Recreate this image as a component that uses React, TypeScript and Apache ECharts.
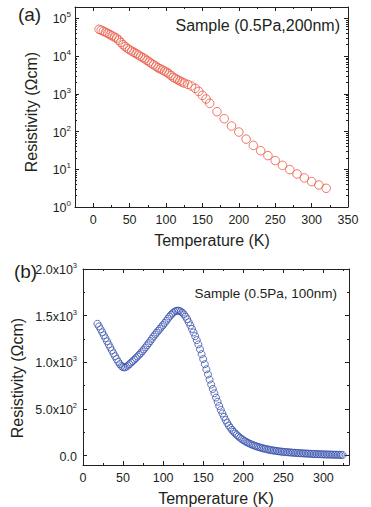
import React, { useEffect, useRef } from 'react';
import * as echarts from 'echarts';

// Panel (a): Sample (0.5Pa, 200nm) — log resistivity vs temperature
const tempA = [8, 11, 14, 17, 20, 23, 26, 29, 32, 35, 38, 41, 44, 47, 50, 53, 56, 59, 62, 65, 68, 71, 74, 77, 80, 83, 86, 89, 92, 95, 98, 101, 104, 107, 110, 113, 116, 119, 122, 125, 130, 135, 140, 145, 150, 155, 160, 170, 180, 190, 200, 210, 220, 230, 240, 250, 260, 270, 280, 290, 300, 310, 320];
const rhoA = [51300, 48500, 45500, 42800, 40000, 37000, 34500, 32000, 30000, 26500, 23000, 20000, 17800, 16000, 14600, 13600, 12600, 11600, 10700, 9900, 9100, 8400, 7700, 7000, 6400, 5900, 5400, 4900, 4600, 4300, 4000, 3750, 3400, 3050, 2750, 2550, 2350, 2200, 2050, 1930, 1780, 1610, 1400, 1160, 910, 730, 560, 336, 219, 140, 97, 63, 43, 31, 23, 17, 12.7, 9.8, 7.5, 5.9, 4.7, 3.83, 3.13];

// Panel (b): Sample (0.5Pa, 100nm) — linear resistivity vs temperature
const tempB = [18, 20, 22, 24, 26, 28, 30, 32, 34, 36, 38, 40, 42, 44, 46, 48, 50, 52, 54, 56, 58, 60, 62, 64, 66, 68, 70, 72, 74, 76, 78, 80, 82, 84, 86, 88, 90, 92, 94, 96, 98, 100, 102, 104, 106, 108, 110, 112, 114, 116, 118, 120, 122, 124, 126, 128, 130, 132, 134, 136, 138, 140, 142, 144, 146, 148, 150, 152, 154, 156, 158, 160, 162, 164, 166, 168, 170, 172, 174, 176, 178, 180, 182, 184, 186, 188, 190, 192, 194, 196, 198, 200, 202, 204, 206, 208, 210, 212, 214, 216, 218, 220, 222, 224, 226, 228, 230, 232, 234, 236, 238, 240, 242, 244, 246, 248, 250, 252, 254, 256, 258, 260, 262, 264, 266, 268, 270, 272, 274, 276, 278, 280, 282, 284, 286, 288, 290, 292, 294, 296, 298, 300, 302, 304, 306, 308, 310, 312, 314, 316, 318, 320, 322, 324];
const rhoB = [1413, 1385, 1355, 1322, 1290, 1258, 1225, 1192, 1160, 1128, 1095, 1065, 1035, 1005, 980, 960, 948, 945, 952, 965, 980, 997, 1012, 1028, 1045, 1062, 1080, 1098, 1118, 1138, 1160, 1182, 1205, 1228, 1252, 1276, 1298, 1318, 1340, 1360, 1380, 1400, 1422, 1445, 1468, 1490, 1510, 1528, 1542, 1551, 1555, 1552, 1545, 1532, 1514, 1490, 1462, 1430, 1395, 1358, 1320, 1280, 1238, 1192, 1140, 1088, 1035, 980, 925, 870, 815, 762, 715, 668, 622, 578, 532, 490, 452, 416, 382, 351, 323, 298, 276, 256, 238, 221, 206, 192, 179, 167, 156, 146, 137, 129, 121, 114, 107, 101, 95, 90, 85, 80, 76, 72, 68, 64, 61, 58, 55, 52, 50, 47, 45, 43, 41, 39, 38, 36, 35, 33, 32, 31, 29, 28, 27, 26, 25, 24, 23, 22, 21, 20, 19, 18, 17, 17, 16, 15, 15, 14, 13, 13, 12, 12, 11, 11, 10, 10, 9, 9, 8, 8];

// Tick values
const xMajorA = [0, 50, 100, 150, 200, 250, 300, 350];
const xMinorA = [25, 75, 125, 175, 225, 275, 325];
const yDecadesA = [1, 10, 100, 1000, 10000, 100000];
const yMinorMultipliers = [2, 3, 4, 5, 6, 7, 8, 9];
const yMinorA = yDecadesA.flatMap((d) => yMinorMultipliers.map((m) => m * d)).filter((v) => v <= 200000);
const xMajorB = [0, 50, 100, 150, 200, 250, 300];
const xMinorB = [25, 75, 125, 175, 225, 275, 325];
const yMajorB = [0, 500, 1000, 1500, 2000];
const yMinorB = [250, 750, 1250, 1750];

const TEXT = '#231f20';
const FONT = '"Liberation Sans", Arial, Helvetica, sans-serif';
const RED = '#e8533d';
const BLUE = '#3a52ad';

function axisSet(
  dim: 'x' | 'y',
  gridIndex: number,
  type: 'value' | 'log',
  min: number,
  max: number,
  major: number[],
  minor: number[],
  label: any
) {
  const positions = dim === 'x' ? ['bottom', 'top'] : ['left', 'right'];
  const lineStyle = { color: TEXT, width: 1 };
  const base: any = {
    type,
    gridIndex,
    min,
    max,
    splitLine: { show: false },
    axisLine: { show: false, onZero: false, lineStyle },
    axisLabel: { show: false },
    axisTick: { show: false },
  };
  if (type === 'log') base.logBase = 10;
  const out: any[] = [];
  positions.forEach((pos, i) => {
    out.push({
      ...base,
      position: pos,
      axisLine: { show: true, onZero: false, lineStyle },
      axisTick: { show: true, inside: true, length: 4, customValues: major, lineStyle },
      axisLabel: i === 0 ? { show: true, customValues: major, color: TEXT, fontFamily: FONT, ...label } : { show: false },
    });
    out.push({
      ...base,
      position: pos,
      axisTick: { show: true, inside: true, length: 2, customValues: minor, lineStyle },
    });
  });
  return out;
}

function supFormatter(v: number) {
  if (v === 0) return '{base|0.0}';
  const e = Math.floor(Math.log10(v) + 1e-9);
  const m = v / Math.pow(10, e);
  return `{base|${m.toFixed(1)}x10}{sup|${e}}`;
}

function txt(text: string, x: number, y: number, size: number, align: string, rotate = 0) {
  return {
    type: 'text',
    x,
    y,
    rotation: rotate,
    silent: true,
    style: {
      text,
      fill: TEXT,
      fontSize: size,
      fontFamily: FONT,
      textAlign: align,
      align,
      textVerticalAlign: 'middle',
      verticalAlign: 'middle',
    },
  };
}

export default function App() {
  const ref = useRef<HTMLDivElement>(null);
  useEffect(() => {
    if (!ref.current) return;
    const chart = echarts.init(ref.current, undefined, { renderer: 'svg' });
    const xAxes = [
      ...axisSet('x', 0, 'value', -25, 350, xMajorA, xMinorA, { fontSize: 12.5, margin: 6 }),
      ...axisSet('x', 1, 'value', 0, 332, xMajorB, xMinorB, { fontSize: 12.5, margin: 6 }),
    ];
    const yAxes = [
      ...axisSet('y', 0, 'log', 1, 200000, yDecadesA, yMinorA, {
        margin: 4,
        formatter: (v: number) => `{base|10}{sup|${Math.round(Math.log10(v))}}`,
        rich: {
          base: { fontSize: 12.5, fontFamily: FONT, color: TEXT, lineHeight: 15, verticalAlign: 'bottom' },
          sup: { fontSize: 8, fontFamily: FONT, color: TEXT, lineHeight: 15, verticalAlign: 'top' },
        },
      }),
      ...axisSet('y', 1, 'value', -100, 2000, yMajorB, yMinorB, {
        margin: 6,
        formatter: supFormatter,
        rich: {
          base: { fontSize: 12.5, fontFamily: FONT, color: TEXT, lineHeight: 15, verticalAlign: 'bottom' },
          sup: { fontSize: 7.5, fontFamily: FONT, color: TEXT, lineHeight: 15, verticalAlign: 'top' },
        },
      }),
    ];
    chart.setOption({
      animation: false,
      backgroundColor: '#ffffff',
      grid: [
        { left: 75, top: 7, width: 273, height: 200, containLabel: false, outerBoundsMode: 'none' },
        { left: 83, top: 269, width: 266, height: 196, containLabel: false, outerBoundsMode: 'none' },
      ],
      xAxis: xAxes,
      yAxis: yAxes,
      series: [
        {
          type: 'scatter',
          xAxisIndex: 0,
          yAxisIndex: 0,
          symbol: 'circle',
          symbolSize: 8.5,
          itemStyle: { color: 'transparent', borderColor: RED, borderWidth: 1 },
          data: tempA.map((t, i) => [t, rhoA[i]]),
        },
        {
          type: 'scatter',
          xAxisIndex: 4,
          yAxisIndex: 4,
          symbol: 'circle',
          symbolSize: 7,
          itemStyle: { color: 'transparent', borderColor: BLUE, borderWidth: 1 },
          data: tempB.map((t, i) => [t, rhoB[i]]),
        },
      ],
      graphic: [
        txt('(a)', 29.5, 14, 19, 'center'),
        txt('Sample (0.5Pa,200nm)', 340, 25, 16, 'right'),
        txt('Resistivity (\u03A9cm)', 31, 112, 16, 'center', Math.PI / 2),
        txt('Temperature (K)', 212, 240, 16, 'center'),
        txt('(b)', 25.5, 271, 19, 'center'),
        txt('Sample (0.5Pa, 100nm)', 337, 293, 13.5, 'right'),
        txt('Resistivity (\u03A9cm)', 17, 378, 16, 'center', Math.PI / 2),
        txt('Temperature (K)', 216, 498, 16, 'center'),
      ],
    });
    return () => chart.dispose();
  }, []);
  return (
    <div
      ref={ref}
      style={{ position: 'fixed', left: 0, top: 0, width: 371, height: 507, background: '#fff' }}
    />
  );
}
